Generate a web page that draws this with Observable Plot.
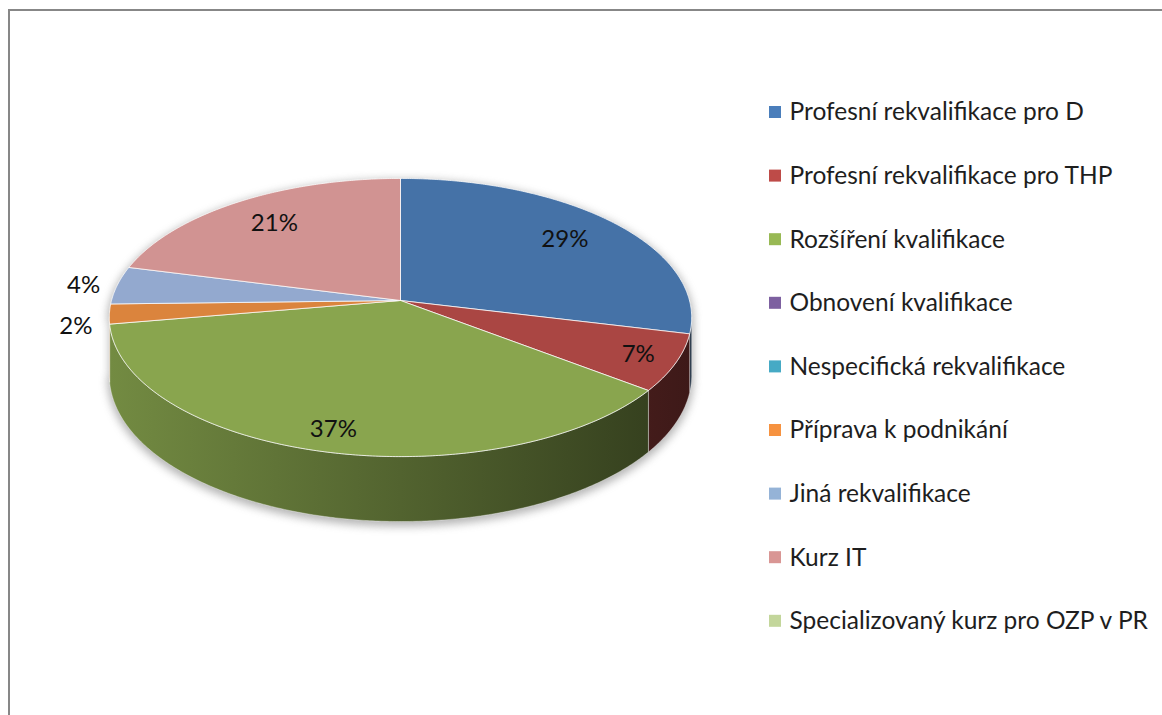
<!DOCTYPE html>
<html>
<head>
<meta charset="utf-8">
<script src="https://cdn.jsdelivr.net/npm/d3@7"></script>
<script src="https://cdn.jsdelivr.net/npm/@observablehq/plot@0.6"></script>
<style>
  body { margin: 0; background: #fff; }
  #wrap { position: relative; width: 1162px; height: 715px; overflow: hidden; background: #fff; }
  #frame { position: absolute; left: 8px; top: 9px; width: 1300px; height: 900px;
           border-left: 2px solid #878787; border-top: 2px solid #878787; }
  #chart { position: absolute; left: 0; top: 0; }
</style>
</head>
<body>
<div id="wrap"><div id="frame"></div><div id="chart"></div></div>
<script>
// ---- data ----
const categories = [
  "Profesní rekvalifikace pro D",
  "Profesní rekvalifikace pro THP",
  "Rozšíření kvalifikace",
  "Obnovení kvalifikace",
  "Nespecifická rekvalifikace",
  "Příprava k podnikání",
  "Jiná rekvalifikace",
  "Kurz IT",
  "Specializovaný kurz pro OZP v PR"
];
const values = [28.8, 6.6, 36.9, 0, 0, 2.3, 4.4, 21.0, 0];
const faceColors = ["#4572a7", "#aa4643", "#89a54e", "#71588f", "#4198af", "#db843d", "#93a9cf", "#d19392", "#b9cd96"];
const legendColors = ["#4a7ebb", "#be4b48", "#98b954", "#7d60a0", "#46aac5", "#f69240", "#95b3d7", "#d99694", "#c3d69b"];

// ---- layout ----
const W = 1162, H = 715;
const view = {cx: 400, cy: 300, rx: 289, ry: 137, k: 0.1223, depth: 57};
const legendLayout = {keyX: 775, y0: 112, step: 63.6, key: 12, textX: 789, fontSize: 24.5};
const FONT = "Lato, 'Open Sans', sans-serif";

// perspective projection of a point on the tilted pie disc
function proj(theta, r, bottom) {
  const X = r * Math.sin(theta), Z = -r * Math.cos(theta);
  const w = 1 - view.k * Z;
  return {x: view.cx + view.rx * X / w, y: view.cy + (view.ry * Z + (bottom ? view.depth : 0)) / w};
}

const rows = categories.map((name, i) => ({name, value: values[i], i}));
const total = d3.sum(values);
const arcs = d3.pie().sort(null).value(d => d.value)(rows);
const STEP = Math.PI / 360;
const thetaR = Math.acos(-view.k);            // right silhouette
const thetaL = 2 * Math.PI - thetaR;          // left silhouette

function range(a0, a1) {
  const n = Math.max(2, Math.ceil((a1 - a0) / STEP));
  return d3.range(n + 1).map(j => a0 + (a1 - a0) * j / n);
}

const faces = [];
const sides = [];
const labelsIn = [], labelsOut = [];
for (const a of arcs) {
  if (a.value <= 0) continue;
  const i = a.data.i;
  const c = {x: view.cx, y: view.cy};
  faces.push({i, fill: faceColors[i], ...c});
  for (const t of range(a.startAngle, a.endAngle)) faces.push({i, fill: faceColors[i], ...proj(t, 1, false)});
  faces.push({i, fill: faceColors[i], ...c});

  const s0 = Math.max(a.startAngle, thetaR), s1 = Math.min(a.endAngle, thetaL);
  if (s1 > s0) {
    const pts = [];
    for (const t of range(s0, s1)) pts.push(proj(t, 1, false));
    for (const t of range(s0, s1).reverse()) pts.push(proj(t, 1, true));
    pts.push(pts[0]);
    sides.push({i, pts});
  }

  const mid = (a.startAngle + a.endAngle) / 2;
  const front = Math.cos(mid) < 0;
  const pct = a.value / total * 100;
  const text = Math.round(pct) + "%";
  if (pct < 5) {
    const p = proj(mid, 1, false);
    // labels of front-facing thin slices sit a little lower, beside the side wall
    labelsOut.push({x: p.x, y: p.y + (front ? view.depth * 0.22 : 0), text});
  } else {
    const p = proj(mid, front ? 0.87 : 0.765, false);
    labelsIn.push({x: p.x, y: p.y, text});
  }
}

// silhouette for the soft shadow
const shadow = [];
for (const t of range(thetaL, 2 * Math.PI + thetaR)) shadow.push(proj(t, 1, false));
for (const t of range(thetaR, thetaL)) shadow.push(proj(t, 1, true));

const legendRows = rows.map((d, j) => ({
  ...d,
  color: legendColors[d.i],
  yc: legendLayout.y0 + j * legendLayout.step
}));

const sideMarks = sides.map(s => Plot.line(s.pts, {
  x: "x", y: "y", fill: faceColors[s.i],
  stroke: "#ffffff", strokeOpacity: 0.45, strokeWidth: 0.8
}));

const chart = Plot.plot({
  width: W, height: H, margin: 0,
  x: {domain: [0, W], range: [0, W], axis: null},
  y: {domain: [0, H], range: [0, H], axis: null},
  color: {type: "identity"},
  style: {background: "transparent", fontFamily: FONT, overflow: "visible"},
  marks: [
    Plot.line(shadow, {x: "x", y: d => d.y + 3, fill: "#7a7a7a", stroke: "#7a7a7a", strokeWidth: 4}),
    ...sideMarks,
    Plot.line(faces, {x: "x", y: "y", z: "i", fill: "fill", stroke: "#ffffff", strokeOpacity: 0.75, strokeWidth: 1, strokeLinejoin: "round"}),
    Plot.text(labelsIn, {x: "x", y: "y", text: "text", fontSize: 24, fill: "#111", fontFamily: FONT}),
    Plot.text(labelsOut, {x: "x", y: "y", text: "text", fontSize: 24, fill: "#111", textAnchor: "end", dx: -17, fontFamily: FONT}),
    // legend
    Plot.rect(legendRows, {
      x1: () => legendLayout.keyX - legendLayout.key / 2,
      x2: () => legendLayout.keyX + legendLayout.key / 2,
      y1: d => d.yc - legendLayout.key / 2,
      y2: d => d.yc + legendLayout.key / 2,
      fill: "color"
    }),
    Plot.text(legendRows, {
      x: () => legendLayout.textX, y: "yc", text: "name", textAnchor: "start",
      fontSize: legendLayout.fontSize, fill: "#1e1e1e", fontFamily: FONT
    })
  ]
});

// gradients for the side walls (light on the left, dark on the right)
const xs = chart.scale("x");
const xLeft = xs.apply(proj(thetaL, 1, false).x), xRight = xs.apply(proj(thetaR, 1, false).x);
const svg = d3.select(chart);
const defs = svg.insert("defs", ":first-child");
for (const s of sides) {
  const base = d3.rgb(faceColors[s.i]);
  const g = defs.append("linearGradient").attr("id", `side${s.i}`)
    .attr("gradientUnits", "userSpaceOnUse")
    .attr("x1", xLeft).attr("x2", xRight).attr("y1", 0).attr("y2", 0);
  [[0, 0.84], [0.5, 0.6], [1, 0.36]].forEach(([o, f]) => {
    g.append("stop").attr("offset", o)
      .attr("stop-color", d3.rgb(base.r * f, base.g * f, base.b * f).formatHex());
  });
}
const lineGroups = chart.querySelectorAll('g[aria-label="line"]');
d3.select(lineGroups[0]).style("filter", "blur(4px)").style("opacity", 0.55);
sides.forEach((s, j) => {
  d3.select(lineGroups[1 + j]).attr("fill", `url(#side${s.i})`).selectAll("path").attr("fill", `url(#side${s.i})`);
});

document.getElementById("chart").appendChild(chart);
</script>
</body>
</html>
